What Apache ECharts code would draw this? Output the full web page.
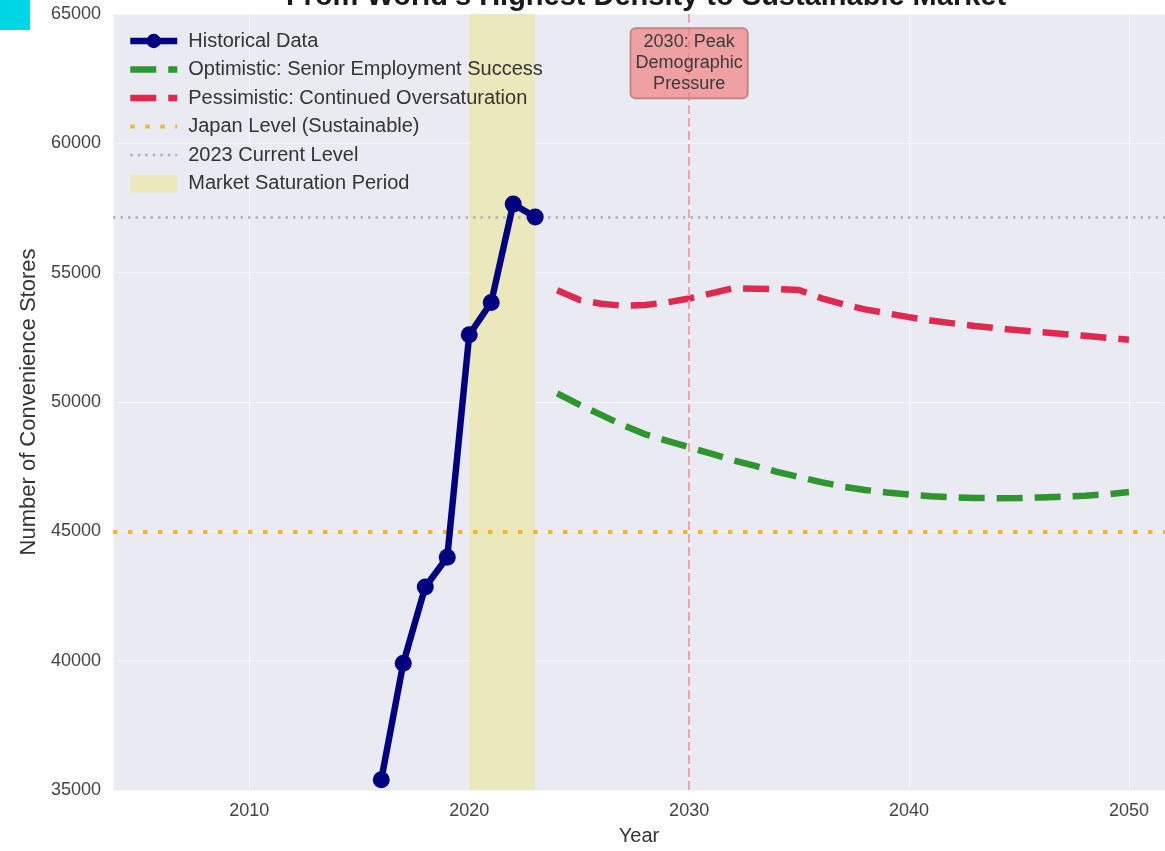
<!DOCTYPE html>
<html>
<head>
<meta charset="utf-8">
<script src="https://cdn.jsdelivr.net/npm/echarts@6/dist/echarts.min.js"></script>
<style>
  html, body { margin: 0; padding: 0; background: #fff; }
  #chart { width: 1165px; height: 851px; }
</style>
</head>
<body>
<div id="chart"></div>
<script>
// historical store counts (2016-2023)
var histYears = [2016, 2017, 2018, 2019, 2020, 2021, 2022, 2023];
var histValues = [35400, 39900, 42850, 44000, 52600, 53850, 57650, 57150];

// projections 2024-2050
var projYears = [2024, 2025, 2026, 2027, 2028, 2029, 2030, 2031, 2032, 2033, 2034, 2035, 2036, 2037,
                 2038, 2039, 2040, 2041, 2042, 2043, 2044, 2045, 2046, 2047, 2048, 2049, 2050];
var optimistic = [50330, 49900, 49500, 49100, 48750, 48500, 48250, 48000, 47750, 47530, 47300, 47100, 46900, 46730,
                  46600, 46500, 46420, 46360, 46320, 46290, 46280, 46290, 46310, 46340, 46380, 46430, 46520];
var pessimistic = [54320, 53950, 53800, 53720, 53750, 53850, 54000, 54200, 54400, 54380, 54360, 54330, 54020, 53780,
                   53580, 53430, 53280, 53150, 53040, 52940, 52850, 52770, 52700, 52630, 52560, 52480, 52410];

var japanLevel = 45000;
var currentLevel = 57150;
var saturationPeriod = [2020, 2023];
var peakYear = 2030;
var peakNoteValue = 63100;
var peakNote = '2030: Peak\nDemographic\nPressure';

var yTicks = { min: 35000, max: 65000, step: 5000 };
var xRange = [2003.8, 2051.64];

function pairs(xs, ys) {
  return xs.map(function (x, i) { return [x, ys[i]]; });
}

var font = 'Liberation Sans, Arial, sans-serif';
var noMarker = { color: 'rgba(0,0,0,0)', opacity: 0, borderWidth: 0 };
var chart = echarts.init(document.getElementById('chart'), null, { renderer: 'canvas' });

var option = {
  backgroundColor: '#ffffff',
  animation: false,
  title: {
    text: "From World's Highest Density to Sustainable Market",
    left: 646, top: -18, textAlign: 'center', padding: 0,
    textStyle: { fontFamily: font, fontSize: 29, fontWeight: 'bold', color: '#1a1a1a' }
  },
  graphic: [{
    type: 'rect', left: 0, top: 0, shape: { width: 30, height: 30 },
    style: { fill: '#00d6e4' }, z: 100
  }],
  legend: {
    orient: 'vertical', left: 127, top: 31, padding: 0,
    itemWidth: 47, itemHeight: 18, itemGap: 8.5,
    lineStyle: { width: 'inherit' },
    textStyle: { fontFamily: font, fontSize: 20, color: '#333333', lineHeight: 20, padding: [0, 0, 0, 6] },
    data: [
      { name: 'Historical Data' },
      { name: 'Optimistic: Senior Employment Success', itemStyle: noMarker },
      { name: 'Pessimistic: Continued Oversaturation', itemStyle: noMarker },
      { name: 'Japan Level (Sustainable)', itemStyle: noMarker },
      { name: '2023 Current Level', itemStyle: noMarker },
      { name: 'Market Saturation Period', icon: 'rect' }
    ]
  },
  grid: { left: 113, top: 14, right: 0, bottom: 60, show: true, backgroundColor: '#eaeaf2', borderWidth: 0 },
  xAxis: {
    type: 'value', min: xRange[0], max: xRange[1],
    splitNumber: 5, minInterval: 10, maxInterval: 10,
    name: 'Year', nameLocation: 'middle', nameGap: 36,
    nameTextStyle: { fontFamily: font, fontSize: 20, color: '#333333' },
    axisLine: { show: false }, axisTick: { show: false },
    axisLabel: {
      fontFamily: font, fontSize: 18, color: '#444444', margin: 12,
      showMinLabel: false, showMaxLabel: false,
      formatter: function (v) { return v % 10 === 0 ? String(v) : ''; }
    },
    splitLine: { show: true, lineStyle: { color: '#f6f6fa', width: 1.2 } }
  },
  yAxis: {
    type: 'value', min: yTicks.min, max: yTicks.max, interval: yTicks.step,
    name: 'Number of Convenience Stores', nameLocation: 'middle', nameGap: 69,
    nameTextStyle: { fontFamily: font, fontSize: 22, color: '#333333' },
    axisLine: { show: false }, axisTick: { show: false },
    axisLabel: { fontFamily: font, fontSize: 18, color: '#444444', margin: 12,
                 formatter: function (v) { return String(v); } },
    splitLine: { show: true, lineStyle: { color: '#f6f6fa', width: 1.2 } }
  },
  series: [
    {
      name: 'Market Saturation Period', type: 'line', data: [],
      itemStyle: { color: '#ebe9bc' }, lineStyle: { color: '#ebe9bc' },
      z: 1,
      markArea: {
        silent: true,
        itemStyle: { color: '#ebe9bc' },
        data: [[{ xAxis: saturationPeriod[0] }, { xAxis: saturationPeriod[1] }]]
      }
    },
    {
      name: 'Japan Level (Sustainable)', type: 'line', data: [],
      symbol: 'none',
      itemStyle: { color: '#fbb32f' },
      lineStyle: { color: '#fbb32f', width: 4, type: [4.5, 10.5] },
      z: 2,
      markLine: {
        silent: true, symbol: 'none', label: { show: false },
        lineStyle: { color: '#fbb32f', width: 4, type: [4.5, 10.5] },
        data: [{ yAxis: japanLevel }]
      }
    },
    {
      name: '2023 Current Level', type: 'line', data: [],
      symbol: 'none',
      itemStyle: { color: '#b0b0b4' },
      lineStyle: { color: '#b0b0b4', width: 2.5, type: [2.5, 5] },
      z: 2,
      markLine: {
        silent: true, symbol: 'none', label: { show: false },
        lineStyle: { color: '#b0b0b4', width: 2.5, type: [2.5, 5] },
        data: [{ yAxis: currentLevel }]
      }
    },
    {
      name: 'Historical Data', type: 'line',
      data: pairs(histYears, histValues),
      symbol: 'circle', symbolSize: 17,
      itemStyle: { color: '#000080' },
      lineStyle: { color: '#000080', width: 6.5 },
      z: 5
    },
    {
      name: 'Optimistic: Senior Employment Success', type: 'line',
      data: pairs(projYears, optimistic),
      symbol: 'none',
      itemStyle: { color: '#2f952f' },
      lineStyle: { color: '#2f952f', width: 6.5, type: [26, 12] },
      z: 4
    },
    {
      name: 'Pessimistic: Continued Oversaturation', type: 'line',
      data: pairs(projYears, pessimistic),
      symbol: 'none',
      itemStyle: { color: '#df2a50' },
      lineStyle: { color: '#df2a50', width: 6.5, type: [26, 12] },
      z: 4,
      markLine: {
        silent: true, symbol: 'none', label: { show: false },
        lineStyle: { color: '#f3a2a8', width: 2, type: [9, 4] },
        data: [{ xAxis: peakYear }]
      },
      markPoint: {
        silent: true, symbol: 'rect', symbolSize: 0,
        data: [{ coord: [peakYear, peakNoteValue] }],
        label: {
          show: true, position: 'inside', formatter: peakNote,
          fontFamily: font, fontSize: 18, lineHeight: 21, color: '#3a3a3a', align: 'center',
          backgroundColor: 'rgba(240,128,128,0.7)', borderColor: '#aa8a8a', borderWidth: 1,
          borderRadius: 5, padding: [4, 5, 3, 5]
        }
      }
    }
  ]
};

chart.setOption(option);
</script>
</body>
</html>
